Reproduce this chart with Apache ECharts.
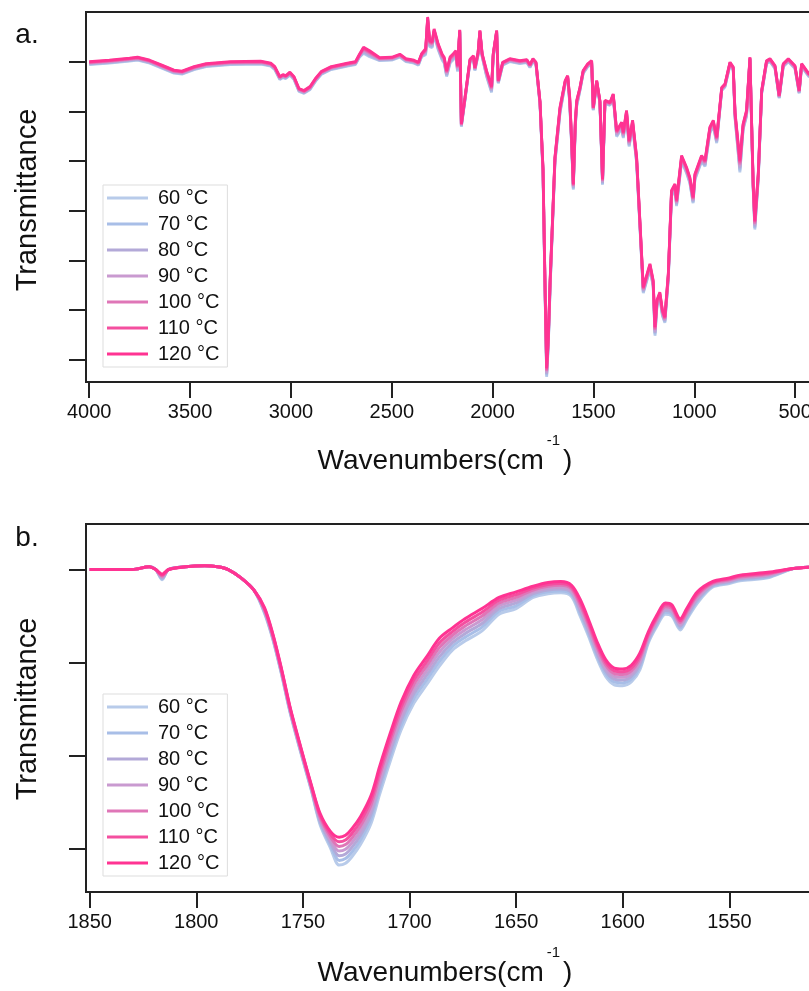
<!DOCTYPE html>
<html><head><meta charset="utf-8">
<script src="https://cdn.jsdelivr.net/npm/echarts@6/dist/echarts.min.js"></script>
<style>html,body{margin:0;padding:0;background:#fff}#c{width:809px;height:991px}</style>
</head><body><div id="c"></div>
<script>
// ---------- DATA ----------
const temps = ['60 °C','70 °C','80 °C','90 °C','100 °C','110 °C','120 °C'];
const yTicksA = [0,1,2,3,4,5,6];
const yTicksB = [0,1,2,3];

// Panel a: wavenumbers (cm-1)
const wnA = [4000,3900,3800,3760,3700,3640,3580,3540,3480,3420,
3300,3150,3100,3080,3055,3040,3025,3005,2985,2960,
2935,2905,2875,2850,2800,2720,2680,2660,2640,2610,
2560,2500,2460,2430,2390,2368,2352,2332,2322,2312,
2300,2290,2270,2250,2240,2228,2210,2195,2182,2174,
2163,2155,2137,2112,2095,2088,2072,2063,2052,2030,
2005,1997,1980,1972,1950,1915,1865,1830,1815,1800,
1785,1765,1750,1740,1732,1724,1715,1707,1691,1666,
1640,1628,1618,1608,1600,1590,1583,1567,1551,1530,
1509,1501,1484,1468,1455,1443,1418,1402,1385,1360,
1352,1336,1323,1306,1286,1269,1253,1236,1220,1204,
1195,1185,1171,1158,1146,1129,1113,1096,1088,1063,
1039,1022,1006,997,964,947,923,906,889,864,
848,823,807,798,774,758,741,724,708,700,
683,666,642,625,600,579,559,534,501,480,
468,443,430,410];

const a120 = [6.00,6.03,6.07,6.09,6.03,5.93,5.83,5.81,5.90,5.96,
6.00,6.01,5.97,5.90,5.70,5.74,5.72,5.79,5.70,5.46,
5.42,5.50,5.68,5.80,5.90,5.97,6.00,6.15,6.29,6.22,
6.08,6.09,6.15,6.06,6.03,5.99,6.16,6.26,6.90,6.42,
6.40,6.66,6.36,6.15,6.09,5.82,6.10,6.16,6.22,5.92,
6.64,4.75,5.28,6.05,6.12,5.88,6.19,6.63,6.16,5.82,
5.50,6.16,6.63,5.62,5.99,6.06,6.02,6.04,5.94,6.06,
5.99,5.20,3.85,1.50,-0.17,0.45,1.60,2.40,4.08,5.08,
5.62,5.72,5.30,4.41,3.54,4.80,5.22,5.48,5.82,5.95,
6.02,5.08,5.62,5.22,3.64,5.22,5.18,5.35,4.61,4.78,
4.58,5.02,4.41,4.82,4.08,2.74,1.46,1.70,1.93,1.60,
0.66,1.20,1.36,1.00,0.86,1.73,3.41,3.54,3.21,4.11,
3.88,3.67,3.27,3.74,4.11,4.01,4.68,4.82,4.48,5.48,
5.55,5.99,5.89,4.98,4.01,4.75,5.02,6.09,3.54,2.80,
3.74,5.42,6.02,6.06,5.92,5.32,5.96,6.06,5.92,5.42,
5.96,5.82,5.75,5.90];

const a110 = [5.99,6.02,6.06,6.08,6.02,5.92,5.82,5.80,5.89,5.95,
5.99,6.00,5.96,5.89,5.69,5.73,5.71,5.78,5.69,5.45,
5.41,5.49,5.67,5.79,5.89,5.96,5.99,6.14,6.27,6.20,
6.07,6.08,6.14,6.05,6.02,5.98,6.15,6.24,6.88,6.40,
6.38,6.64,6.34,6.13,6.07,5.80,6.08,6.14,6.20,5.90,
6.63,4.74,5.27,6.04,6.11,5.87,6.18,6.62,6.15,5.80,
5.48,6.15,6.62,5.61,5.98,6.05,6.01,6.03,5.93,6.05,
5.98,5.19,3.83,1.47,-0.20,0.42,1.57,2.38,4.06,5.06,
5.61,5.71,5.28,4.39,3.52,4.78,5.20,5.47,5.81,5.94,
6.01,5.07,5.61,5.21,3.62,5.21,5.17,5.34,4.59,4.76,
4.56,5.00,4.39,4.80,4.06,2.72,1.44,1.68,1.91,1.58,
0.63,1.18,1.34,0.98,0.84,1.71,3.39,3.52,3.19,4.09,
3.86,3.65,3.25,3.72,4.09,3.99,4.66,4.80,4.46,5.47,
5.54,5.98,5.88,4.96,3.97,4.73,5.00,6.08,3.52,2.77,
3.72,5.41,6.01,6.05,5.91,5.31,5.95,6.05,5.91,5.41,
5.95,5.81,5.74,5.89];

const a100 = [5.98,6.01,6.05,6.07,6.01,5.91,5.81,5.79,5.88,5.94,
5.98,5.99,5.95,5.88,5.68,5.72,5.70,5.77,5.68,5.44,
5.40,5.48,5.66,5.78,5.88,5.95,5.98,6.13,6.25,6.18,
6.06,6.07,6.13,6.04,6.01,5.97,6.14,6.22,6.86,6.38,
6.36,6.62,6.32,6.11,6.05,5.78,6.06,6.12,6.18,5.88,
6.62,4.73,5.26,6.03,6.10,5.86,6.17,6.61,6.14,5.78,
5.46,6.14,6.61,5.60,5.97,6.04,6.00,6.02,5.92,6.04,
5.97,5.18,3.81,1.44,-0.23,0.39,1.54,2.36,4.04,5.04,
5.60,5.70,5.26,4.37,3.50,4.76,5.18,5.46,5.80,5.93,
6.00,5.06,5.60,5.20,3.60,5.20,5.16,5.33,4.57,4.74,
4.54,4.98,4.37,4.78,4.04,2.70,1.42,1.66,1.89,1.56,
0.60,1.16,1.32,0.96,0.82,1.69,3.37,3.50,3.17,4.07,
3.84,3.63,3.23,3.70,4.07,3.97,4.64,4.78,4.44,5.46,
5.53,5.97,5.87,4.94,3.93,4.71,4.98,6.07,3.50,2.74,
3.70,5.40,6.00,6.04,5.90,5.30,5.94,6.04,5.90,5.40,
5.94,5.80,5.73,5.88];

const a90 = [5.97,6.00,6.04,6.06,6.00,5.90,5.80,5.78,5.87,5.93,
5.97,5.98,5.94,5.87,5.67,5.71,5.69,5.76,5.67,5.43,
5.39,5.47,5.65,5.77,5.87,5.94,5.97,6.12,6.23,6.16,
6.05,6.06,6.12,6.03,6.00,5.96,6.13,6.20,6.84,6.36,
6.34,6.60,6.30,6.09,6.03,5.76,6.04,6.10,6.16,5.86,
6.61,4.72,5.25,6.02,6.09,5.85,6.16,6.60,6.13,5.76,
5.44,6.13,6.60,5.59,5.96,6.03,5.99,6.01,5.91,6.03,
5.96,5.17,3.79,1.41,-0.26,0.36,1.51,2.34,4.02,5.02,
5.59,5.69,5.24,4.35,3.48,4.74,5.16,5.45,5.79,5.92,
5.99,5.05,5.59,5.19,3.58,5.19,5.15,5.32,4.55,4.72,
4.52,4.96,4.35,4.76,4.02,2.68,1.40,1.64,1.87,1.54,
0.57,1.14,1.30,0.94,0.80,1.67,3.35,3.48,3.15,4.05,
3.82,3.61,3.21,3.68,4.05,3.95,4.62,4.76,4.42,5.45,
5.52,5.96,5.86,4.92,3.89,4.69,4.96,6.06,3.48,2.71,
3.68,5.39,5.99,6.03,5.89,5.29,5.93,6.03,5.89,5.39,
5.93,5.79,5.72,5.87];

const a80 = [5.96,5.99,6.03,6.05,5.99,5.89,5.79,5.77,5.86,5.92,
5.96,5.97,5.93,5.86,5.66,5.70,5.68,5.75,5.66,5.42,
5.38,5.46,5.64,5.76,5.86,5.93,5.96,6.11,6.21,6.14,
6.04,6.05,6.11,6.02,5.99,5.95,6.12,6.18,6.82,6.34,
6.32,6.58,6.28,6.07,6.01,5.74,6.02,6.08,6.14,5.84,
6.60,4.71,5.24,6.01,6.08,5.84,6.15,6.59,6.12,5.74,
5.42,6.12,6.59,5.58,5.95,6.02,5.98,6.00,5.90,6.02,
5.95,5.16,3.77,1.38,-0.29,0.33,1.48,2.32,4.00,5.00,
5.58,5.68,5.22,4.33,3.46,4.72,5.14,5.44,5.78,5.91,
5.98,5.04,5.58,5.18,3.56,5.18,5.14,5.31,4.53,4.70,
4.50,4.94,4.33,4.74,4.00,2.66,1.38,1.62,1.85,1.52,
0.54,1.12,1.28,0.92,0.78,1.65,3.33,3.46,3.13,4.03,
3.80,3.59,3.19,3.66,4.03,3.93,4.60,4.74,4.40,5.44,
5.51,5.95,5.85,4.90,3.85,4.67,4.94,6.05,3.46,2.68,
3.66,5.38,5.98,6.02,5.88,5.28,5.92,6.02,5.88,5.38,
5.92,5.78,5.71,5.86];

const a70 = [5.95,5.98,6.02,6.04,5.98,5.88,5.78,5.76,5.85,5.91,
5.95,5.96,5.92,5.85,5.65,5.69,5.67,5.74,5.65,5.41,
5.37,5.45,5.63,5.75,5.85,5.92,5.95,6.10,6.19,6.12,
6.03,6.04,6.10,6.01,5.98,5.94,6.11,6.16,6.80,6.32,
6.30,6.56,6.26,6.05,5.99,5.72,6.00,6.06,6.12,5.82,
6.59,4.70,5.23,6.00,6.07,5.83,6.14,6.58,6.11,5.72,
5.40,6.11,6.58,5.57,5.94,6.01,5.97,5.99,5.89,6.01,
5.94,5.15,3.75,1.35,-0.32,0.30,1.45,2.30,3.98,4.98,
5.57,5.67,5.20,4.31,3.44,4.70,5.12,5.43,5.77,5.90,
5.97,5.03,5.57,5.17,3.54,5.17,5.13,5.30,4.51,4.68,
4.48,4.92,4.31,4.72,3.98,2.64,1.36,1.60,1.83,1.50,
0.51,1.10,1.26,0.90,0.76,1.63,3.31,3.44,3.11,4.01,
3.78,3.57,3.17,3.64,4.01,3.91,4.58,4.72,4.38,5.43,
5.50,5.94,5.84,4.88,3.81,4.65,4.92,6.04,3.44,2.65,
3.64,5.37,5.97,6.01,5.87,5.27,5.91,6.01,5.87,5.37,
5.91,5.77,5.70,5.85];

const a60 = [5.94,5.97,6.01,6.03,5.97,5.87,5.77,5.75,5.84,5.90,
5.94,5.95,5.91,5.84,5.64,5.68,5.66,5.73,5.64,5.40,
5.36,5.44,5.62,5.74,5.84,5.91,5.94,6.09,6.17,6.10,
6.02,6.03,6.09,6.00,5.97,5.93,6.10,6.14,6.78,6.30,
6.28,6.54,6.24,6.03,5.97,5.70,5.98,6.04,6.10,5.80,
6.58,4.69,5.22,5.99,6.06,5.82,6.13,6.57,6.10,5.70,
5.38,6.10,6.57,5.56,5.93,6.00,5.96,5.98,5.88,6.00,
5.93,5.14,3.73,1.32,-0.35,0.27,1.42,2.28,3.96,4.96,
5.56,5.66,5.18,4.29,3.42,4.68,5.10,5.42,5.76,5.89,
5.96,5.02,5.56,5.16,3.52,5.16,5.12,5.29,4.49,4.66,
4.46,4.90,4.29,4.70,3.96,2.62,1.34,1.58,1.81,1.48,
0.48,1.08,1.24,0.88,0.74,1.61,3.29,3.42,3.09,3.99,
3.76,3.55,3.15,3.62,3.99,3.89,4.56,4.70,4.36,5.42,
5.49,5.93,5.83,4.86,3.77,4.63,4.90,6.03,3.42,2.62,
3.62,5.36,5.96,6.00,5.86,5.26,5.90,6.00,5.86,5.36,
5.90,5.76,5.69,5.84];

// Panel b: wavenumbers (cm-1)
const wnB = [1850,1840,1830,1822,1819,1816,1813,1805,1796,1790,
1785,1779,1773,1768,1764,1760,1756,1751,1746,1742,
1737,1733,1730,1727,1723,1718,1714,1709,1704,1698,
1692,1686,1680,1674,1666,1658,1650,1642,1635,1629,
1624,1620,1616,1612,1608,1604,1600,1596,1592,1588,
1584,1580,1577,1573,1570,1565,1558,1550,1545,1532,
1520,1510,1500];

const b120 = [3.00,3.00,3.00,3.03,3.00,2.95,3.00,3.03,3.04,3.03,
3.00,2.91,2.78,2.59,2.30,1.93,1.52,1.09,0.68,0.38,
0.18,0.12,0.14,0.21,0.34,0.57,0.88,1.24,1.57,1.86,
2.06,2.26,2.37,2.47,2.58,2.70,2.76,2.82,2.86,2.87,
2.83,2.68,2.46,2.22,2.03,1.94,1.93,1.97,2.10,2.33,
2.51,2.64,2.62,2.47,2.58,2.76,2.87,2.91,2.94,2.97,
3.01,3.03,3.05];
const b110 = [3.00,3.00,3.00,3.03,3.00,2.94,3.00,3.03,3.04,3.03,
3.00,2.91,2.78,2.58,2.29,1.92,1.51,1.08,0.67,0.36,
0.15,0.07,0.09,0.16,0.29,0.52,0.83,1.19,1.52,1.81,
2.01,2.21,2.33,2.43,2.54,2.67,2.73,2.80,2.84,2.85,
2.81,2.65,2.43,2.19,2.00,1.91,1.90,1.94,2.07,2.31,
2.49,2.62,2.60,2.45,2.56,2.74,2.86,2.90,2.93,2.96,
3.01,3.03,3.05];
const b100 = [3.00,3.00,3.00,3.03,3.00,2.93,3.00,3.03,3.04,3.03,
3.00,2.91,2.78,2.57,2.28,1.91,1.50,1.07,0.66,0.34,
0.12,0.02,0.04,0.11,0.24,0.47,0.78,1.14,1.47,1.76,
1.96,2.16,2.29,2.39,2.50,2.64,2.70,2.78,2.82,2.83,
2.79,2.62,2.40,2.16,1.97,1.88,1.87,1.91,2.04,2.29,
2.47,2.60,2.58,2.43,2.54,2.72,2.85,2.89,2.92,2.95,
3.01,3.03,3.05];
const b90 = [3.00,3.00,3.00,3.03,3.00,2.92,3.00,3.03,3.04,3.03,
3.00,2.91,2.78,2.56,2.27,1.90,1.49,1.06,0.65,0.32,
0.09,-0.03,-0.01,0.06,0.19,0.42,0.73,1.09,1.42,1.71,
1.91,2.11,2.25,2.35,2.46,2.61,2.67,2.76,2.80,2.81,
2.77,2.59,2.37,2.13,1.94,1.85,1.84,1.88,2.01,2.27,
2.45,2.58,2.56,2.41,2.52,2.70,2.84,2.88,2.91,2.94,
3.01,3.03,3.05];
const b80 = [3.00,3.00,3.00,3.03,3.00,2.91,3.00,3.03,3.04,3.03,
3.00,2.91,2.78,2.55,2.26,1.89,1.48,1.05,0.64,0.30,
0.06,-0.08,-0.06,0.01,0.14,0.37,0.68,1.04,1.37,1.66,
1.86,2.06,2.21,2.31,2.42,2.58,2.64,2.74,2.78,2.79,
2.75,2.56,2.34,2.10,1.91,1.82,1.81,1.85,1.98,2.25,
2.43,2.56,2.54,2.39,2.50,2.68,2.83,2.87,2.90,2.93,
3.01,3.03,3.05];
const b70 = [3.00,3.00,3.00,3.03,3.00,2.90,3.00,3.03,3.04,3.03,
3.00,2.91,2.78,2.54,2.25,1.88,1.47,1.04,0.63,0.28,
0.03,-0.13,-0.11,-0.04,0.09,0.32,0.63,0.99,1.32,1.61,
1.81,2.01,2.17,2.27,2.38,2.55,2.61,2.72,2.76,2.77,
2.73,2.53,2.31,2.07,1.88,1.79,1.78,1.82,1.95,2.23,
2.41,2.54,2.52,2.37,2.48,2.66,2.82,2.86,2.89,2.92,
3.01,3.03,3.05];
const b60 = [3.00,3.00,3.00,3.03,3.00,2.89,3.00,3.03,3.04,3.03,
3.00,2.91,2.78,2.53,2.24,1.87,1.46,1.03,0.62,0.26,
0.00,-0.18,-0.16,-0.09,0.04,0.27,0.58,0.94,1.27,1.56,
1.76,1.96,2.13,2.23,2.34,2.52,2.58,2.70,2.74,2.75,
2.71,2.50,2.28,2.04,1.85,1.76,1.75,1.79,1.92,2.21,
2.39,2.52,2.50,2.35,2.46,2.64,2.81,2.85,2.88,2.91,
3.01,3.03,3.05];

// ---------- STYLE ----------
const colors = ['#b8cbea','#a8bee7','#b3a9d8','#c99ad0','#df76b7','#f44f9f','#ff3392'];
const FONT = '"Liberation Sans", Arial, sans-serif';
const AX = '#222';

const seriesA = [a60,a70,a80,a90,a100,a110,a120];
const seriesB = [b60,b70,b80,b90,b100,b110,b120];

const chart = echarts.init(document.getElementById('c'), null, {renderer:'canvas'});

function xAxisCfg(gi, min, max, interval){
  return {
    type:'value', gridIndex:gi, min:min, max:max, interval:interval, inverse:true,
    axisLine:{show:true, onZero:false, lineStyle:{color:AX, width:2}},
    axisTick:{show:true, inside:false, length:16, lineStyle:{color:AX, width:2}},
    axisLabel:{show:true, margin:20, fontSize:20, color:'#111', fontFamily:FONT,
      formatter:function(v){ return String(v); }},
    splitLine:{show:false}
  };
}
function yAxisCfg(gi, min, max, ticks){
  return {
    type:'value', gridIndex:gi, min:min, max:max,
    axisLine:{show:true, onZero:false, lineStyle:{color:AX, width:2}},
    axisTick:{show:true, inside:false, length:17, customValues:ticks, lineStyle:{color:AX, width:2}},
    axisLabel:{show:false, customValues:ticks},
    splitLine:{show:false}
  };
}
function legendCfg(top){
  return {
    data:temps, orient:'vertical', left:103, top:top,
    icon:'rect', itemWidth:41, itemHeight:3, itemGap:4,
    backgroundColor:'#fff', borderColor:'#ddd', borderWidth:1,
    padding:[2,8,2,4], selectedMode:false,
    textStyle:{fontSize:20, lineHeight:22, color:'#111', fontFamily:FONT, padding:[0,0,0,5]}
  };
}

const series = [];
temps.forEach((n,i)=>{
  series.push({
    name:n, type:'line', xAxisIndex:0, yAxisIndex:0,
    data: wnA.map((w,j)=>[w, seriesA[i][j]]),
    symbol:'none', showSymbol:false, smooth:false,
    lineStyle:{width:2.8, color:colors[i]}, itemStyle:{color:colors[i]}
  });
});
temps.forEach((n,i)=>{
  series.push({
    name:n, type:'line', xAxisIndex:1, yAxisIndex:1,
    data: wnB.map((w,j)=>[w, seriesB[i][j]]),
    symbol:'none', showSymbol:false, smooth:0.3,
    lineStyle:{width:3, color:colors[i]}, itemStyle:{color:colors[i]}
  });
});

function xTitle(y){
  return {
    type:'text', x:445, y:y, z:10,
    style:{
      text:'{a|Wavenumbers(cm}{s|-1}{a|)}',
      align:'center', verticalAlign:'middle',
      rich:{
        a:{fontSize:28, fontFamily:FONT, fill:'#111', lineHeight:56},
        s:{fontSize:15, fontFamily:FONT, fill:'#111', lineHeight:16, verticalAlign:'top', padding:[0,3,0,3]}
      }
    }
  };
}
function simpleText(txt, x, y, size, rot){
  return {type:'text', x:x, y:y, rotation:rot||0, z:10,
    style:{text:txt, fontSize:size, fontFamily:FONT, fill:'#111', align:'center', verticalAlign:'middle'}};
}

chart.setOption({
  animation:false,
  backgroundColor:'#fff',
  grid:[
    {left:86, top:12, width:810, height:370, show:true, borderColor:AX, borderWidth:2,
     backgroundColor:'transparent', containLabel:false, outerBoundsMode:'none'},
    {left:86, top:524, width:750, height:368, show:true, borderColor:AX, borderWidth:2,
     backgroundColor:'transparent', containLabel:false, outerBoundsMode:'none'}
  ],
  xAxis:[ xAxisCfg(0, 0, 4016, 500), xAxisCfg(1, 1500, 1851.7, 50) ],
  yAxis:[ yAxisCfg(0, -0.45, 7, yTicksA), yAxisCfg(1, -0.47, 3.49, yTicksB) ],
  legend:[ legendCfg(185), legendCfg(694) ],
  series: series,
  graphic:[
    simpleText('a.', 27, 35, 28),
    simpleText('b.', 27, 538, 28),
    simpleText('Transmittance', 28, 200, 29, Math.PI/2),
    simpleText('Transmittance', 28, 709, 29, Math.PI/2),
    xTitle(461),
    xTitle(973)
  ]
});
</script>
</body></html>
